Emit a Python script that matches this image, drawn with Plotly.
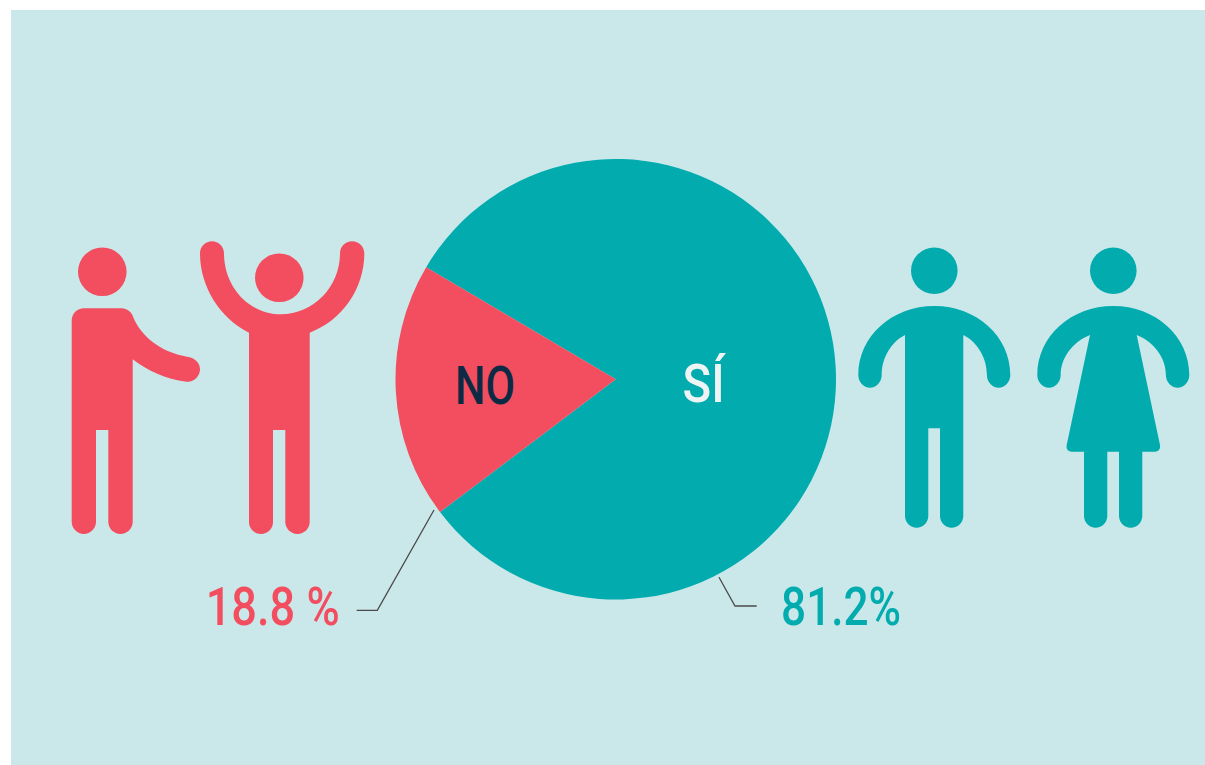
import plotly.graph_objects as go

# ---- data ----
categories = ["SÍ", "NO"]
values = [81.2, 18.8]
value_labels = ["81.2%", "18.8 %"]

TEAL = "#02ABAE"
RED = "#F24E5F"
BG = "#CAE8EA"
NAVY = "#0D2A45"
PALE = "#EEF3F3"
LEADER = "#4A4A4A"
FONT = "Roboto"
W, H = 1205, 765
K = 0.5523


def cap(xr, xl, yb):
    """Rounded foot from (xr, yb-r) to (xl, yb-r), through bottom at yb."""
    r = (xr - xl) / 2
    xm = (xr + xl) / 2
    return (f"L {xr} {yb-r} C {xr} {yb-r+K*r} {xm+K*r} {yb} {xm} {yb} "
            f"C {xm-K*r} {yb} {xl} {yb-r+K*r} {xl} {yb-r} ")


def legs(xr, xri, xli, xl, ytop, yb):
    return cap(xr, xri, yb) + f"L {xri} {ytop} L {xli} {ytop} " + cap(xli, xl, yb)


person1 = ("M 71.7 320.5 C 71.7 313.7 77.2 308.3 84 308.3 L 121.7 308.3 "
           "C 127 308.3 131.5 312 133.3 317.3 C 140 334 158 352 188.3 357 "
           "C 195 358 200 363 200 369.3 C 200 377 193 382.5 186.7 381.7 "
           "C 165 379 148 371 132.7 359.3 "
           + legs(132.7, 108.3, 96, 71.7, 430, 534) + "Z")

person2 = ("M 200 253.3 C 200 246.5 205.5 241.2 212 241.2 C 218.5 241.2 224 246.5 224 253.3 "
           "C 224 287 249 314.3 281 314.3 C 313 314.3 340 287 340 253.3 "
           "C 340 246.5 345.5 241.2 352 241.2 C 358.8 241.2 364.3 246.5 364.3 253.3 "
           "C 364.3 288 343 320 309.7 332.7 "
           + legs(309.7, 285.3, 273, 249, 430, 534)
           + "L 249 332.7 C 220 318 200 287 200 253.3 Z")


def arms_top(cx, x_in_l, x_in_r):
    """Shoulder arc with both arms; ends at right armpit, starts at left armpit."""
    inner_l, inner_r = cx - 52.6, cx + 52.6
    c1 = x_in_l - 0.6 * (x_in_l - inner_l)
    c2 = x_in_r + 0.6 * (inner_r - x_in_r)
    return (f"M {x_in_l} 335 C {c1} 342 {inner_l} 358 {inner_l} 375 "
            f"C {inner_l} 382 {cx-58} 387.7 {cx-64.3} 387.7 "
            f"C {cx-70.7} 387.7 {cx-76} 382 {cx-76} 375 "
            f"C {cx-76} 336 {cx-42} 306 {cx} 306 "
            f"C {cx+42} 306 {cx+76} 336 {cx+76} 375 "
            f"C {cx+76} 382 {cx+70.7} 387.7 {cx+64.3} 387.7 "
            f"C {cx+58} 387.7 {inner_r} 382 {inner_r} 375 "
            f"C {inner_r} 358 {c2} 342 {x_in_r} 335 ")


person3 = (arms_top(934.3, 905, 963.3)
           + legs(963.3, 940, 928.3, 905, 428.3, 527.7) + "Z")

person4 = (arms_top(1113.3, 1090, 1136.7)
           + "L 1160 445 C 1160.6 449 1158.5 451.7 1155 451.7 L 1142.3 451.7 "
           + cap(1142.3, 1119, 527.7) + "L 1119 451.7 L 1107.3 451.7 "
           + cap(1107.3, 1084, 527.7) + "L 1084 451.7 L 1071.7 451.7 "
           "C 1068 451.7 1066 449 1066.7 445 Z")

heads = [(102.3, 271.7, 24.3, RED), (279.3, 277.7, 24.3, RED),
         (934.3, 270.7, 23.3, TEAL), (1113.3, 270.7, 23.3, TEAL)]

shapes = [dict(type="rect", x0=11, x1=W, y0=10, y1=H, fillcolor=BG,
               line_width=0, layer="below")]
for p, c in [(person1, RED), (person2, RED), (person3, TEAL), (person4, TEAL)]:
    shapes.append(dict(type="path", path=p, fillcolor=c, line_width=0, layer="below"))
for cx, cy, r, c in heads:
    shapes.append(dict(type="circle", x0=cx-r, x1=cx+r, y0=cy-r, y1=cy+r,
                       fillcolor=c, line_width=0, layer="below"))
for p in ["M 356.7 610.3 L 377.3 610.3 L 434 510",
          "M 719 577.3 L 735 606 L 756.7 606"]:
    shapes.append(dict(type="path", path=p, line=dict(color=LEADER, width=1.3),
                       fillcolor="rgba(0,0,0,0)", layer="above"))

fig = go.Figure(go.Pie(
    labels=categories, values=values, sort=False, direction="clockwise",
    rotation=300.6, textinfo="none", hoverinfo="label+percent",
    marker=dict(colors=[TEAL, RED], line=dict(width=0)), showlegend=False,
    domain=dict(x=[395.5/W, 836/W], y=[1-599.5/H, 1-159/H]),
))


def note(text, x, y, color, size, weight=500):
    return dict(text=text, x=x, y=y, xref="x", yref="y", showarrow=False,
                xanchor="center", yanchor="middle",
                font=dict(family=FONT, size=size, color=color, weight=weight))


fig.update_layout(
    width=W, height=H, margin=dict(l=0, r=0, t=0, b=0),
    paper_bgcolor="white", plot_bgcolor="rgba(0,0,0,0)",
    xaxis=dict(range=[0, W], visible=False, fixedrange=True),
    yaxis=dict(range=[H, 0], visible=False, fixedrange=True),
    shapes=shapes,
    annotations=[
        note(categories[1], 485, 386, NAVY, 53),
        note(categories[0], 704, 384, PALE, 53),
        note(value_labels[1], 272, 607, RED, 53),
        note(value_labels[0], 841, 607, TEAL, 53),
    ],
)

# The reference face is a condensed DIN: narrow the real text to the widths it takes there.
condense = ("var w={'NO':60,'SÍ':42,'18.8 %':134,'81.2%':120};"
            "document.querySelectorAll('.annotation-text').forEach(function(t){"
            "var n=w[t.textContent];if(n){t.setAttribute('textLength',n);"
            "t.setAttribute('lengthAdjust','spacingAndGlyphs');}});")
fig.write_html("out.html", config=dict(displayModeBar=False),
               post_script="document.body.style.margin='0';document.body.style.overflow='hidden';" + condense)
